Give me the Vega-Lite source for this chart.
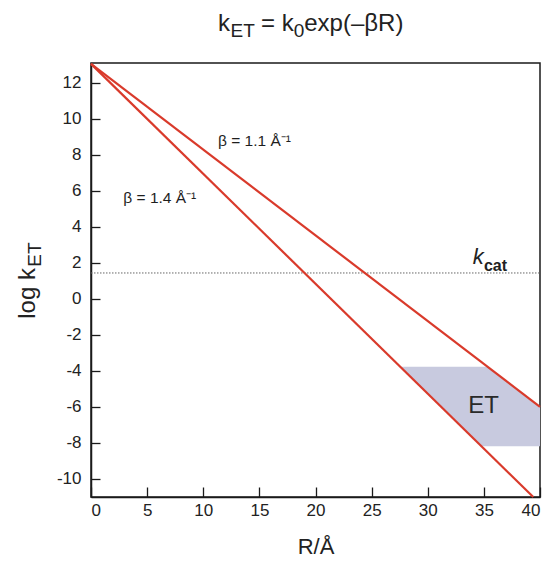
{
  "$schema": "https://vega.github.io/schema/vega-lite/v6.json",
  "width": 449,
  "height": 434,
  "autosize": "none",
  "padding": {"left": 91, "top": 63, "right": 13, "bottom": 66},
  "background": "white",
  "config": {
    "font": "Liberation Sans",
    "view": {"stroke": "#1a1a1a", "strokeWidth": 1.5},
    "axis": {
      "grid": false,
      "domainColor": "#1a1a1a",
      "domainWidth": 1.5,
      "tickColor": "#1a1a1a",
      "tickWidth": 1.3,
      "labelColor": "#222222",
      "labelFontSize": 17,
      "labelOverlap": false,
      "labelFont": "Liberation Sans",
      "titleFont": "Liberation Sans",
      "titleColor": "#222222",
      "titleFontWeight": "normal"
    }
  },
  "encoding": {
    "x": {"field": "R", "type": "quantitative", "scale": {"domain": [0, 40], "nice": false, "zero": false},
          "title": "R/Å",
          "axis": {"values": [0, 5, 10, 15, 20, 25, 30, 35, 40], "tickSize": -10, "labelPadding": 15, "labelFontSize": 17, "labelOverlap": false, "titleFontSize": 22, "titlePadding": 18}},
    "y": {"field": "logk", "type": "quantitative", "scale": {"domain": [-11, 13.1], "nice": false, "zero": false},
          "title": null,
          "axis": {"values": [-10, -8, -6, -4, -2, 0, 2, 4, 6, 8, 10, 12], "tickSize": -9, "labelPadding": 19, "labelFontSize": 17, "labelOverlap": false, "labelExpr": "replace(datum.label, '−', '-')"}}
  },
  "layer": [
    {
      "data": {"values": [
        {"R": 27.56, "logk": -3.77, "bottom": -3.77},
        {"R": 34.78, "logk": -3.77, "bottom": -8.18},
        {"R": 35.34, "logk": -3.77, "bottom": -8.18},
        {"R": 40, "logk": -5.99, "bottom": -8.18}
      ]},
      "mark": {"type": "area", "color": "#c8cadf", "opacity": 1},
      "encoding": {
        "y2": {"field": "bottom"}
      }
    },
    {
      "data": {"values": [{"R": 0, "logk": 1.44, "R2": 40}]},
      "mark": {"type": "rule", "color": "#666666", "strokeWidth": 1, "strokeDash": [1.5, 1.5]},
      "encoding": {
        "x2": {"field": "R2"}
      }
    },
    {
      "data": {"values": [
        {"beta": "1.1", "R": 0, "logk": 13.05},
        {"beta": "1.1", "R": 40, "logk": -5.99},
        {"beta": "1.4", "R": 0, "logk": 13.05},
        {"beta": "1.4", "R": 39.4, "logk": -11}
      ]},
      "mark": {"type": "line", "color": "#d93a2b", "strokeWidth": 2.2},
      "encoding": {
        "detail": {"field": "beta"}
      }
    },
    {
      "data": {"values": [
        {"R": 11.31, "logk": 8.49, "t": "β = 1.1 Å⁻¹"},
        {"R": 2.88, "logk": 5.32, "t": "β = 1.4 Å⁻¹"}
      ]},
      "mark": {"type": "text", "align": "left", "baseline": "alphabetic", "fontSize": 15.5, "color": "#1e1e1e"},
      "encoding": {"text": {"field": "t"}}
    },
    {
      "data": {"values": [{"R": 34.0, "logk": 1.93, "t": "k"}]},
      "mark": {"type": "text", "align": "left", "baseline": "alphabetic", "fontSize": 22, "fontStyle": "italic", "color": "#222222"},
      "encoding": {"text": {"field": "t"}}
    },
    {
      "data": {"values": [{"R": 35.0, "logk": 1.56, "t": "cat"}]},
      "mark": {"type": "text", "align": "left", "baseline": "alphabetic", "fontSize": 16, "fontWeight": "bold", "color": "#222222"},
      "encoding": {"text": {"field": "t"}}
    },
    {
      "data": {"values": [{"R": 34.97, "logk": -5.96, "t": "ET"}]},
      "mark": {"type": "text", "align": "center", "baseline": "middle", "fontSize": 24, "color": "#2a2a2a"},
      "encoding": {"text": {"field": "t"}}
    },
    {
      "data": {"values": [
        {"R": 11.31, "logk": 14.88, "t": "k"},
        {"R": 15.14, "logk": 14.88, "t": "= k"},
        {"R": 19.0, "logk": 14.88, "t": "exp(–βR)"}
      ]},
      "mark": {"type": "text", "align": "left", "baseline": "alphabetic", "fontSize": 24, "color": "#222222"},
      "encoding": {"text": {"field": "t"}}
    },
    {
      "data": {"values": [
        {"R": 12.43, "logk": 14.54, "t": "ET"},
        {"R": 18.06, "logk": 14.54, "t": "0"}
      ]},
      "mark": {"type": "text", "align": "left", "baseline": "alphabetic", "fontSize": 19, "color": "#222222"},
      "encoding": {"text": {"field": "t"}}
    },
    {
      "data": {"values": [{"R": -4.99, "logk": -1.1, "t": "log k"}]},
      "mark": {"type": "text", "align": "left", "baseline": "alphabetic", "fontSize": 24, "angle": 270, "color": "#222222"},
      "encoding": {"text": {"field": "t"}}
    },
    {
      "data": {"values": [{"R": -4.45, "logk": 1.79, "t": "ET"}]},
      "mark": {"type": "text", "align": "left", "baseline": "alphabetic", "fontSize": 19, "angle": 270, "color": "#222222"},
      "encoding": {"text": {"field": "t"}}
    }
  ]
}
